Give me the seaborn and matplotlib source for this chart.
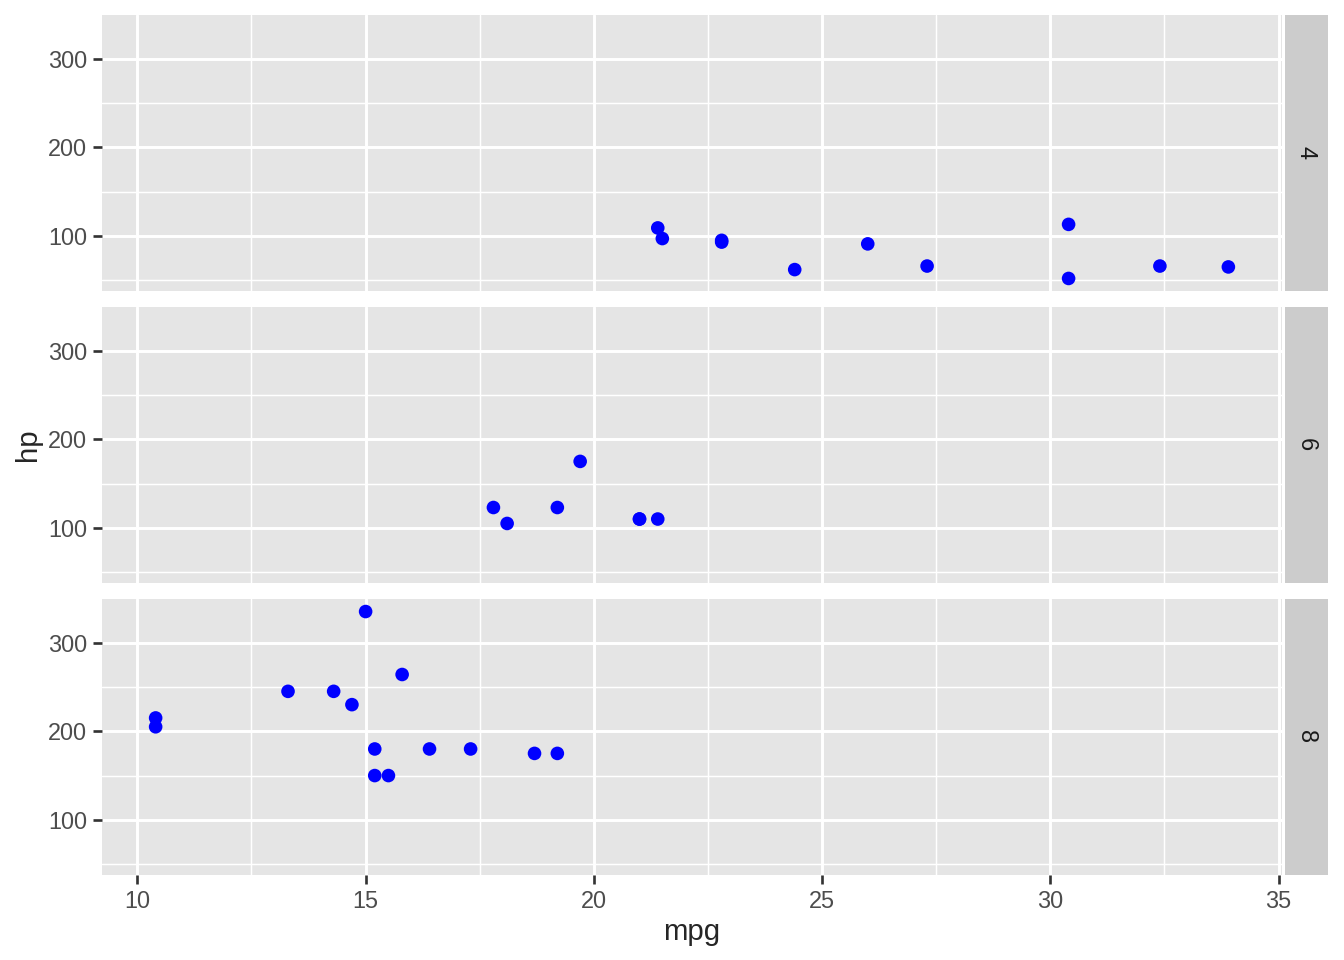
import numpy as np
import pandas as pd
import seaborn as sns
import matplotlib.pyplot as plt

# mtcars: mpg, cyl, hp
mpg = [21.0, 21.0, 22.8, 21.4, 18.7, 18.1, 14.3, 24.4, 22.8, 19.2, 17.8, 16.4,
       17.3, 15.2, 10.4, 10.4, 14.7, 32.4, 30.4, 33.9, 21.5, 15.5, 15.2, 13.3,
       19.2, 27.3, 26.0, 30.4, 15.8, 19.7, 15.0, 21.4]
cyl = [6, 6, 4, 6, 8, 6, 8, 4, 4, 6, 6, 8, 8, 8, 8, 8, 8, 4, 4, 4, 4, 8, 8, 8,
       8, 4, 4, 4, 8, 6, 8, 4]
hp = [110, 110, 93, 110, 175, 105, 245, 62, 95, 123, 123, 180, 180, 180, 205,
      215, 230, 66, 52, 65, 97, 150, 150, 245, 175, 66, 91, 113, 264, 175, 335, 109]

df = pd.DataFrame({'mpg': mpg, 'cyl': cyl, 'hp': hp})

sns.set_theme(style="white")
plt.rcParams['font.family'] = ['Liberation Sans', 'DejaVu Sans']

g = sns.FacetGrid(df, row='cyl', row_order=[4, 6, 8], sharex=True, sharey=True,
                  height=5 / 3, aspect=7 / (5 / 3) / 1)
g.map_dataframe(sns.scatterplot, x='mpg', y='hp', color='blue', s=26,
                edgecolor='none', linewidth=0, zorder=3)
g.set_titles(row_template='', col_template='')

fig = g.figure
fig.set_size_inches(7, 5)
W, H = 1344, 960
left, right, top, bottom = 102 / W, 1282 / W, 1 - 15 / H, 1 - 875 / H
fig.subplots_adjust(left=left, right=right, top=top, bottom=bottom, hspace=16 / 276)

xr = (min(mpg), max(mpg))
yr = (min(hp), max(hp))
xpad = (xr[1] - xr[0]) * 0.05
ypad = (yr[1] - yr[0]) * 0.05

for ax, c in zip(g.axes.flat, [4, 6, 8]):
    ax.set_facecolor('#E5E5E5')
    ax.set_xlim(xr[0] - xpad, xr[1] + xpad)
    ax.set_ylim(yr[0] - ypad, yr[1] + ypad)
    ax.set_xticks([10, 15, 20, 25, 30, 35])
    ax.set_yticks([100, 200, 300])
    ax.set_xticks([12.5, 17.5, 22.5, 27.5, 32.5], minor=True)
    ax.set_yticks([50, 150, 250], minor=True)
    ax.grid(True, which='major', color='white', linewidth=1.1, zorder=0)
    ax.grid(True, which='minor', color='white', linewidth=0.55, zorder=0)
    ax.set_axisbelow(True)
    for s in ax.spines.values():
        s.set_visible(False)
    ax.tick_params(which='major', length=3.5, width=1.0, color='#333333',
                   labelsize=8.8, labelcolor='#4D4D4D', pad=2)
    ax.tick_params(which='minor', length=0)
    ax.tick_params(axis='x', bottom=True)
    ax.tick_params(axis='y', left=True)
    ax.set_xlabel('')
    ax.set_ylabel('')
    # strip on the right
    pos = ax.get_position()
    sax = fig.add_axes([pos.x1 + 3 / W, pos.y0, 43 / W, pos.height])
    sax.set_facecolor('#CCCCCC')
    sax.set_xticks([])
    sax.set_yticks([])
    for s in sax.spines.values():
        s.set_visible(False)
    sax.text(0.5, 0.5, str(c), rotation=-90, ha='center', va='center',
             fontsize=8.8, color='#1A1A1A', transform=sax.transAxes)

for ax in g.axes.flat[:-1]:
    ax.tick_params(axis='x', bottom=False, labelbottom=False)
g.axes.flat[-1].tick_params(axis='x', bottom=True, labelbottom=True)

fig.text((left + right) / 2, 1 - 932 / H, 'mpg', ha='center', va='center', fontsize=11)
fig.text(28 / W, (top + bottom) / 2, 'hp', ha='center', va='center', rotation=90, fontsize=11)

fig.savefig('out.png', dpi=192, facecolor='white')
